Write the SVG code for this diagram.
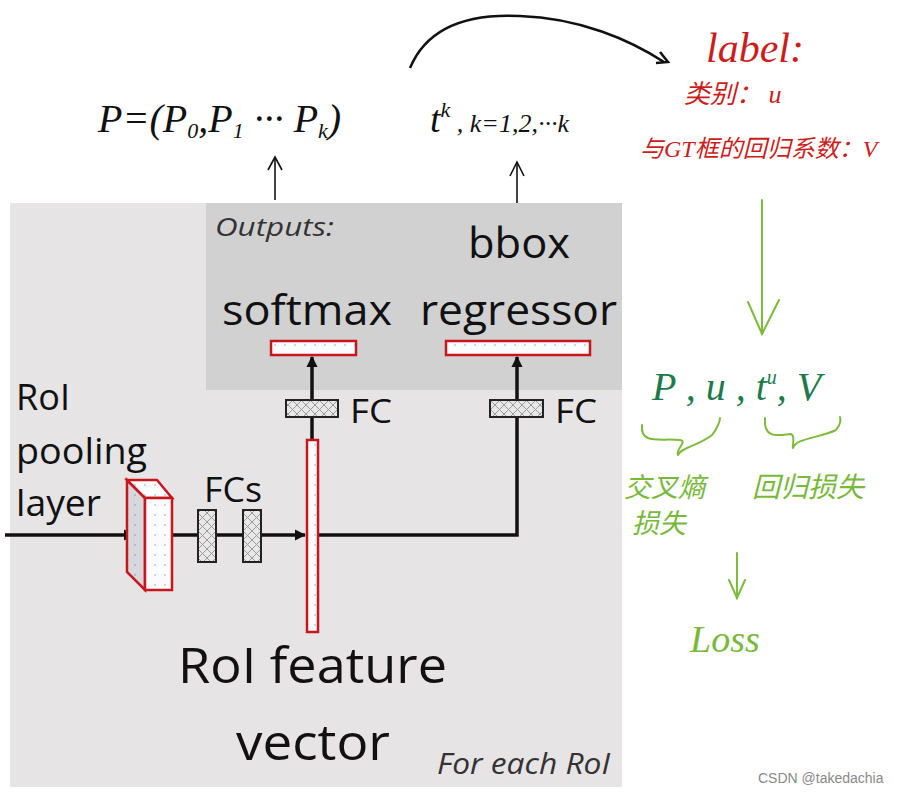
<svg xmlns="http://www.w3.org/2000/svg" width="911" height="793" viewBox="0 0 911 793">
<style>
.sans{font-family:"Open Sans","Liberation Sans",sans-serif;fill:#111}
.it{font-style:italic;fill:#333}
.hand{font-family:"Liberation Serif","Noto Sans CJK SC",serif;font-style:italic}
.red{fill:#cc1d1d}
.grn{fill:#78b83a}
.dgrn{fill:#1d7a4c}
.bar{fill:url(#dots);stroke:#c8171c;stroke-width:2.5}
.fc{fill:url(#hatch);stroke:#222;stroke-width:2}
.wire{stroke:#111;stroke-width:3.5;fill:none}
.thin{stroke:#111;stroke-width:1.6;fill:none}
.gline{stroke:#7cbb3c;stroke-width:2;fill:none;stroke-linecap:round}
</style>
<defs>
<pattern id="dots" width="10" height="10" patternUnits="userSpaceOnUse">
<rect width="10" height="10" fill="#fbfbff"/>
<circle cx="5" cy="5" r="0.8" fill="#8aa6d0"/>
</pattern>
<pattern id="dotsg" width="10" height="10" patternUnits="userSpaceOnUse">
<rect width="10" height="10" fill="#d6d8dc"/>
<circle cx="5" cy="5" r="0.8" fill="#7c94bb"/>
</pattern>
<pattern id="hatch" width="9" height="9" patternUnits="userSpaceOnUse">
<rect width="9" height="9" fill="#e8e8e8"/>
<path d="M0 0L9 9M9 0L0 9" stroke="#9a9a9a" stroke-width="1"/>
</pattern>
<marker id="ah" viewBox="0 0 10 10" refX="9" refY="5" markerWidth="3.2" markerHeight="3.2" orient="auto">
<path d="M0 0L10 5L0 10z" fill="#111"/>
</marker>
</defs>

<g id="panel">
<rect x="10" y="203" width="612" height="584" fill="#e6e4e5"/>
<rect x="206" y="203" width="416" height="187" fill="#d2d1d2"/>
</g>

<g id="connectors">
<line class="wire" x1="5" y1="535" x2="134" y2="535" marker-end="url(#ah)"/>
<line class="wire" x1="172" y1="535" x2="305" y2="535" marker-end="url(#ah)"/>
<polyline class="wire" points="318,535 517,535 517,417"/>
<line class="wire" x1="312" y1="440" x2="312" y2="417"/>
<line class="wire" x1="312" y1="400" x2="312" y2="357" marker-end="url(#ah)"/>
<line class="wire" x1="517" y1="400" x2="517" y2="357" marker-end="url(#ah)"/>
<line class="thin" x1="275" y1="200" x2="275" y2="158"/>
<polyline class="thin" points="268,170 275,157 282,170"/>
<line class="thin" x1="517" y1="203" x2="517" y2="163"/>
<polyline class="thin" points="510,176 517,162 524,176"/>
<path d="M410 68C430 20 480 14 520 16C580 18 630 40 664 62" stroke="#111" stroke-width="2.5" fill="none"/>
<path d="M660 52L668 62L656 63" stroke="#111" stroke-width="2.5" fill="none"/>
<line class="gline" x1="762" y1="200" x2="762" y2="334"/>
<polyline class="gline" points="748,302 762,334 779,300"/>
<line class="gline" x1="737" y1="553" x2="737" y2="598"/>
<polyline class="gline" points="729,580 737,598 745,580"/>
<path class="gline" d="M642 425C640 445 660 438 680 440C688 441 675 450 678 455M678 455C680 448 700 445 712 435C718 428 720 420 720 418"/>
<path class="gline" d="M765 418C763 440 780 435 790 434C796 434 792 448 793 448M793 448C796 438 820 438 836 430C840 425 841 420 840 417"/>
</g>

<g id="outputs">
<text class="sans it" x="215" y="236" font-size="25" textLength="119" lengthAdjust="spacingAndGlyphs">Outputs:</text>
<text class="sans" x="468" y="258" font-size="42" textLength="102" lengthAdjust="spacingAndGlyphs">bbox</text>
</g>

<g id="softmax">
<text class="sans" x="222" y="325" font-size="42" textLength="170" lengthAdjust="spacingAndGlyphs">softmax</text>
<rect class="bar" x="271" y="341" width="85" height="14"/>
</g>

<g id="regressor">
<text class="sans" x="420" y="325" font-size="42" textLength="197" lengthAdjust="spacingAndGlyphs">regressor</text>
<rect class="bar" x="446" y="341" width="144" height="14"/>
</g>

<g id="fc-left">
<rect class="fc" x="286" y="400" width="52" height="17"/>
<text class="sans" x="350" y="423" font-size="33" textLength="42" lengthAdjust="spacingAndGlyphs">FC</text>
</g>
<g id="fc-right">
<rect class="fc" x="490" y="400" width="53" height="17"/>
<text class="sans" x="555" y="423" font-size="33" textLength="42" lengthAdjust="spacingAndGlyphs">FC</text>
</g>

<g id="roi-pooling">
<text class="sans" x="16" y="410" font-size="37" textLength="54" lengthAdjust="spacingAndGlyphs">RoI</text>
<text class="sans" x="16" y="464" font-size="37" textLength="131" lengthAdjust="spacingAndGlyphs">pooling</text>
<text class="sans" x="16" y="516" font-size="37" textLength="85" lengthAdjust="spacingAndGlyphs">layer</text>
<polygon points="127,480 145,498 145,590 127,572" fill="url(#dotsg)" stroke="#c8171c" stroke-width="2.5"/>
<polygon points="127,480 157,480 172,498 145,498" fill="url(#dots)" stroke="#c8171c" stroke-width="2.5"/>
<rect x="145" y="498" width="27" height="92" fill="url(#dots)" stroke="#c8171c" stroke-width="2.5"/>
</g>

<g id="fcs">
<text class="sans" x="204" y="502" font-size="35" textLength="58" lengthAdjust="spacingAndGlyphs">FCs</text>
<rect class="fc" x="198" y="510" width="18" height="52"/>
<rect class="fc" x="243" y="510" width="18" height="52"/>
</g>

<g id="feature-vector">
<rect class="bar" x="307" y="440" width="11" height="192"/>
<text class="sans" x="178" y="683" font-size="50" textLength="269" lengthAdjust="spacingAndGlyphs">RoI feature</text>
<text class="sans" x="236" y="760" font-size="50" textLength="154" lengthAdjust="spacingAndGlyphs">vector</text>
</g>

<text class="sans it" x="437" y="774" font-size="29" textLength="173" lengthAdjust="spacingAndGlyphs">For each RoI</text>

<g id="prob">
<text class="hand" x="98" y="132" font-size="40" fill="#111">P=(P<tspan font-size="22" dy="6">0</tspan><tspan dy="-6">,P</tspan><tspan font-size="22" dy="6">1</tspan><tspan dy="-6"> ··· P</tspan><tspan font-size="22" dy="6">k</tspan><tspan dy="-6">)</tspan></text>
</g>
<g id="bbox-out">
<text class="hand" x="430" y="132" font-size="38" fill="#111">t<tspan font-size="22" dy="-15">k</tspan><tspan font-size="26" dy="15"> , k=1,2,···k</tspan></text>
</g>

<g id="label">
<text class="hand red" x="706" y="62" font-size="42">label:</text>
<text class="hand red" x="684" y="103" font-size="26">类别： u</text>
<text class="hand red" x="640" y="157" font-size="24">与GT框的回归系数：V</text>
</g>

<g id="loss-terms">
<text class="hand dgrn" x="652" y="400" font-size="40">P , u , t<tspan font-size="20" dy="-16">u</tspan><tspan dy="16">, V</tspan></text>
<text class="hand grn" x="624" y="497" font-size="27">交叉熵</text>
<text class="hand grn" x="632" y="533" font-size="27">损失</text>
<text class="hand grn" x="752" y="497" font-size="28">回归损失</text>
<text class="hand grn" x="690" y="652" font-size="38">Loss</text>
</g>

<text x="758" y="783" font-family="Liberation Sans,sans-serif" font-size="14" fill="#888">CSDN @takedachia</text>
</svg>
